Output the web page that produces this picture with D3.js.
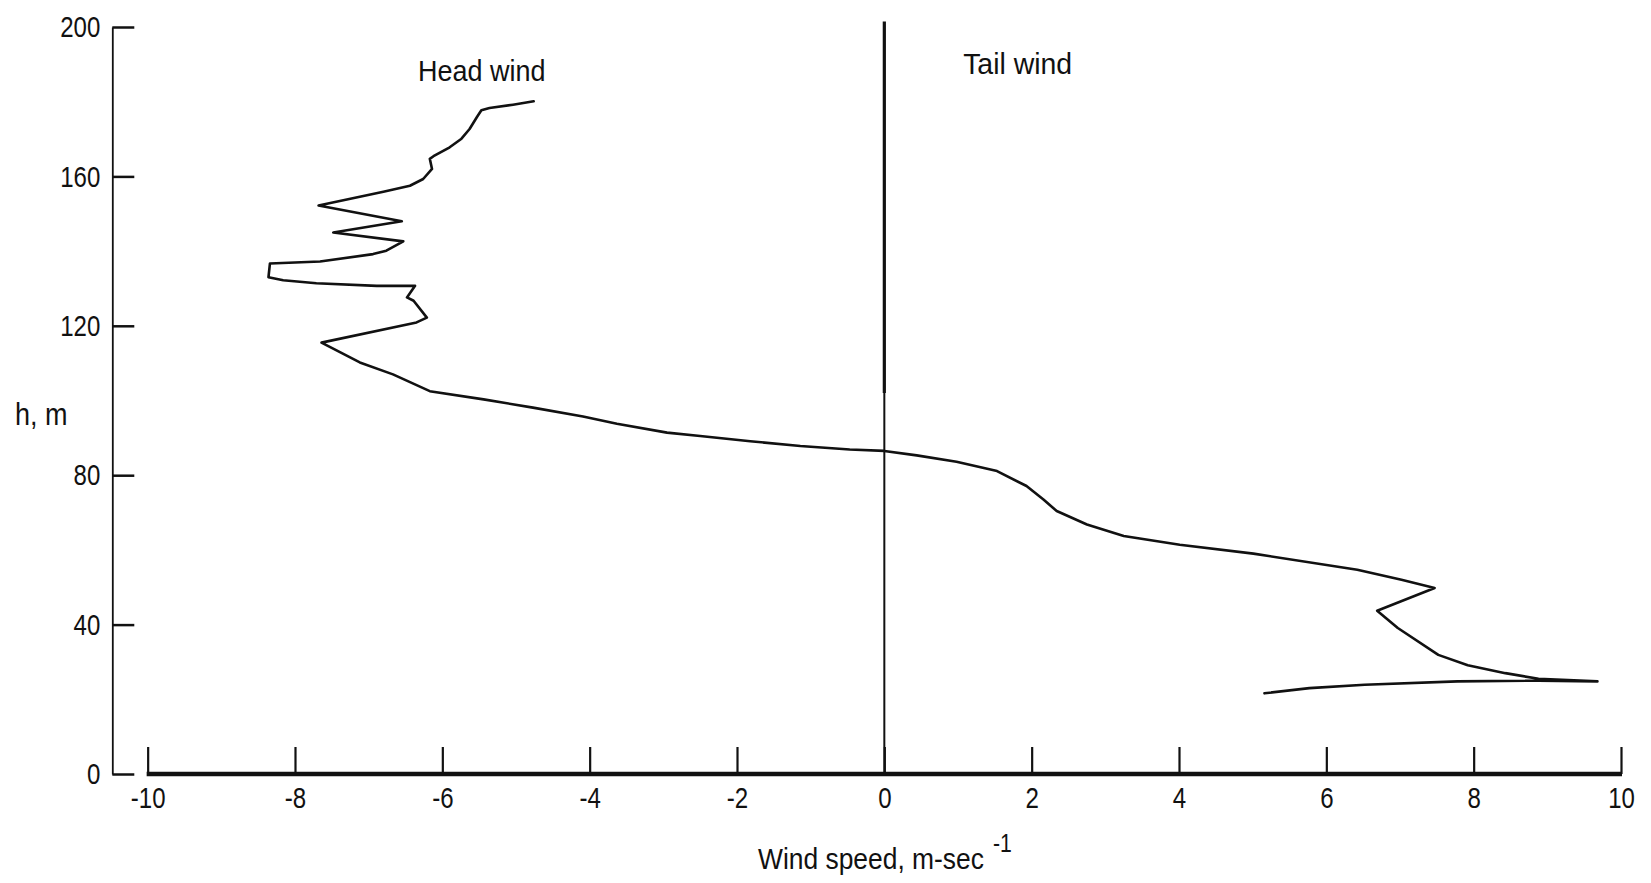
<!DOCTYPE html>
<html>
<head>
<meta charset="utf-8">
<script src="https://cdn.jsdelivr.net/npm/d3@7"></script>
<style>
  html, body { margin: 0; padding: 0; background: #fff; }
  svg { display: block; }
  text { font-family: "Liberation Sans", Arial, sans-serif; fill: #111; }
</style>
</head>
<body>
<svg id="chart" width="1651" height="883"></svg>
<script>
// Wind-speed profile: head wind negative, tail wind positive, against height.
const windSpeed = [
  -4.76, -5.04, -5.36, -5.47, -5.53, -5.63, -5.74, -5.90, -6.12, -6.17,
  -6.14, -6.26, -6.44, -6.80, -7.68, -6.55, -7.48, -6.53, -6.76, -6.94,
  -7.66, -8.34, -8.36, -8.16, -7.71, -6.89, -6.37, -6.48, -6.39, -6.21,
  -6.35, -7.64, -7.12, -6.67, -6.17, -5.44, -4.77, -4.09, -3.63, -2.95,
  -2.50, -1.82, -1.14, -0.47, 0.00, 0.44, 0.98, 1.53, 1.93, 2.16,
  2.34, 2.75, 3.25, 4.01, 5.01, 6.42, 7.02, 7.47, 6.69, 6.97,
  7.52, 7.92, 8.43, 8.88, 9.68, 8.88, 7.78, 6.52, 5.77, 5.16
];
const heightM = [
  180.1, 179.2, 178.3, 177.7, 175.9, 172.7, 170.1, 167.8, 165.4, 164.7,
  162.0, 159.3, 157.5, 155.9, 152.2, 148.0, 145.0, 142.6, 140.1, 139.2,
  137.2, 136.7, 133.0, 132.2, 131.4, 130.7, 130.7, 127.6, 126.7, 122.2,
  120.9, 115.5, 110.2, 107.0, 102.5, 100.3, 98.1, 95.7, 93.8, 91.4,
  90.5, 89.1, 87.8, 86.9, 86.5, 85.3, 83.6, 81.1, 77.1, 73.5,
  70.4, 66.8, 63.7, 61.4, 59.0, 54.7, 52.0, 49.8, 43.7, 39.1,
  31.9, 29.1, 27.0, 25.5, 24.8, 25.0, 24.8, 23.9, 23.0, 21.6
];

const xTicks = [-10, -8, -6, -4, -2, 0, 2, 4, 6, 8, 10];
const xTickLabels = ["-10", "-8", "-6", "-4", "-2", "0", "2", "4", "6", "8", "10"];
const yTicks = [0, 40, 80, 120, 160, 200];
const yTickLabels = ["0", "40", "80", "120", "160", "200"];

const xDomain = [-10.48, 10];
const yDomain = [0, 200];
// zero-wind reference line: heavier upper part, lighter lower part
const zeroLineSpans = [
  { from: 102, to: 201.5 },
  { from: 0, to: 102 }
];
const zeroLineWidths = [3.2, 2.0];

// Region annotations placed in data coordinates
const regionLabels = [
  { text: "Head wind", w: -6.33, h: 185.6 },
  { text: "Tail wind", w: 1.07, h: 187.5 }
];
const regionSqueeze = [0.93, 0.98];

const svg = d3.select("#chart");

const x = d3.scaleLinear().domain(xDomain).range([112.3, 1621]);
const y = d3.scaleLinear().domain(yDomain).range([774, 27]);

// Squeeze text horizontally to a narrow, condensed look
function condense(sel, factor) {
  sel.each(function (d, i) {
    const f = typeof factor === "function" ? factor(d, i) : factor;
    const w = this.getComputedTextLength();
    d3.select(this)
      .attr("textLength", (w * f).toFixed(1))
      .attr("lengthAdjust", "spacingAndGlyphs");
  });
}

// Horizontal axis: heavy baseline with ticks rising from it
const xAxis = d3.axisBottom(x)
  .tickValues(xTicks)
  .tickFormat((d, i) => xTickLabels[i])
  .tickSizeInner(-27)
  .tickSizeOuter(0)
  .tickPadding(13);

const gx = svg.append("g")
  .attr("transform", `translate(0,${y(0)})`)
  .call(xAxis);
gx.select(".domain").remove();
gx.selectAll(".tick line").attr("stroke", "#111").attr("stroke-width", 2.2);
gx.selectAll(".tick text")
  .attr("font-size", 30)
  .attr("font-family", "Liberation Sans, Arial, sans-serif")
  .attr("fill", "#111")
  .call(condense, 0.8);

svg.append("line")
  .attr("x1", x(-10) - 1).attr("x2", x(10) + 1)
  .attr("y1", y(0)).attr("y2", y(0))
  .attr("stroke", "#111").attr("stroke-width", 4.5);

// Vertical axis with inward ticks
const yAxis = d3.axisLeft(y)
  .tickValues(yTicks)
  .tickFormat((d, i) => yTickLabels[i])
  .tickSizeInner(-22)
  .tickSizeOuter(0)
  .tickPadding(12);

const gy = svg.append("g")
  .attr("transform", `translate(${x(xDomain[0])},0)`)
  .call(yAxis);
gy.select(".domain").attr("stroke", "#111").attr("stroke-width", 1.8);
gy.selectAll(".tick line").attr("stroke", "#111").attr("stroke-width", 2.5);
gy.selectAll(".tick text")
  .attr("font-size", 30)
  .attr("font-family", "Liberation Sans, Arial, sans-serif")
  .attr("fill", "#111")
  .call(condense, 0.8);

// Zero-wind reference line
svg.selectAll("line.zero")
  .data(zeroLineSpans)
  .enter().append("line")
  .attr("class", "zero")
  .attr("x1", x(0)).attr("x2", x(0))
  .attr("y1", d => y(d.to)).attr("y2", d => y(d.from))
  .attr("stroke", "#111")
  .attr("stroke-width", (d, i) => zeroLineWidths[i]);

// Profile trace
const profile = windSpeed.map((w, i) => ({ w, h: heightM[i] }));
const line = d3.line().x(d => x(d.w)).y(d => y(d.h));
svg.append("path")
  .datum(profile)
  .attr("d", line)
  .attr("fill", "none")
  .attr("stroke", "#111")
  .attr("stroke-width", 2.6)
  .attr("stroke-linejoin", "round")
  .attr("stroke-linecap", "round");

// Region annotations
svg.selectAll("text.region")
  .data(regionLabels)
  .enter().append("text")
  .attr("class", "region")
  .attr("x", d => x(d.w))
  .attr("y", d => y(d.h))
  .attr("font-size", 29)
  .text(d => d.text)
  .call(condense, (d, i) => regionSqueeze[i]);

// Axis titles
svg.append("text")
  .attr("x", 15).attr("y", 425)
  .attr("font-size", 31)
  .text("h, m")
  .call(condense, 0.87);

// x title and its exponent, narrowed with a horizontal scale
svg.append("text")
  .attr("transform", "translate(758,869) scale(0.88,1)")
  .attr("font-size", 30)
  .text("Wind speed, m-sec");

svg.append("text")
  .attr("transform", "translate(993,852) scale(0.85,1)")
  .attr("font-size", 25)
  .text("-1");
</script>
</body>
</html>
